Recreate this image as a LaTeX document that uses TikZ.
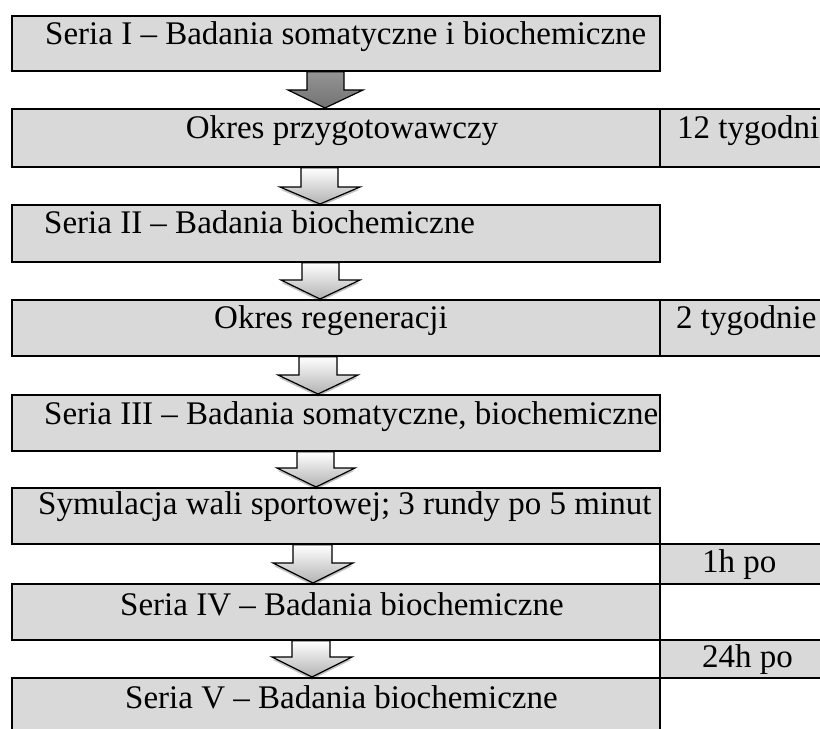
\documentclass[tikz,border=0pt]{standalone}
\usepackage{fontspec}
\setmainfont{Liberation Serif}
\usetikzlibrary{shadows}
\definecolor{boxgray}{HTML}{D9D9D9}
\tikzset{
  box/.style={draw=black, line width=1.8bp, fill=boxgray, inner sep=0pt, anchor=north west},
  blank/.style={draw=black, line width=1.8bp, fill=white, inner sep=0pt, anchor=north west},
  txt/.style={font=\fontsize{33bp}{40bp}\selectfont, inner sep=0pt, anchor=base west},
  ctxt/.style={font=\fontsize{33bp}{40bp}\selectfont, inner sep=0pt, anchor=base},
  darr/.style={draw=black, line width=1.2bp, top color=black!42, bottom color=black!55, line join=miter},
  larr/.style={draw=black, line width=1.2bp, top color=white, bottom color=black!30, line join=miter,
    drop shadow={shadow xshift=0bp, shadow yshift=-2.5bp, opacity=0.25, fill=black}},
}
% #1 style, #2 from node, #3 to node, #4 shaft left x, #5 shaft right x,
% #6 head base y, #7 head left x, #8 head right x, #9 tip x
\newcommand\blockarr[9]{%
  \path[#1] (#4,0 |- #2.south) -- (#5,0 |- #2.south) -- (#5,#6) -- (#8,#6)
    -- (#9,0 |- #3.north) -- (#7,#6) -- (#4,#6) -- cycle;}
\begin{document}
\begin{tikzpicture}[x=1bp, y=-1bp]
\useasboundingbox (0,0) rectangle (820,729);
\clip (0,0) rectangle (820,729);
% main boxes
\node[box, minimum width=648bp, minimum height=55bp] (b1) at (11,15) {};
\node[box, minimum width=648bp, minimum height=58bp] (b2) at (11,108) {};
\node[box, minimum width=180bp, minimum height=58bp] (s1) at (659,108) {};
\node[box, minimum width=648bp, minimum height=57bp] (b3) at (11,204) {};
\node[box, minimum width=648bp, minimum height=56bp] (b4) at (11,299) {};
\node[box, minimum width=180bp, minimum height=56bp] (s2) at (659,299) {};
\node[box, minimum width=648bp, minimum height=56bp] (b5) at (11,394) {};
\node[box, minimum width=648bp, minimum height=56bp] (b6) at (11,487) {};
\node[box, minimum width=180bp, minimum height=40bp] (s3) at (659,543) {};
\node[box, minimum width=648bp, minimum height=56bp] (b7) at (11,583) {};
\node[blank, minimum width=180bp, minimum height=56bp] (r7) at (659,583) {};
\node[box, minimum width=180bp, minimum height=38bp] (s4) at (659,639) {};
\node[box, minimum width=648bp, minimum height=70bp] (b8) at (11,677) {};
\node[blank, minimum width=180bp, minimum height=70bp] (r8) at (659,677) {};
% texts
\node[txt] (t1) at (45,45) {Seria I – Badania somatyczne i biochemiczne};
\node[ctxt] (t2) at (342,139) {Okres przygotowawczy};
\node[txt] (u1) at (677,139) {12 tygodni};
\node[txt] (t3) at (44,233) {Seria II – Badania biochemiczne};
\node[ctxt] (t4) at (331,328) {Okres regeneracji};
\node[txt] (u2) at (676,328) {2 tygodnie};
\node[txt] (t5) at (44,424) {Seria III – Badania somatyczne, biochemiczne};
\node[txt] (t6) at (38,514) {Symulacja wali sportowej; 3 rundy po 5 minut};
\node[txt] (u3) at (702,572) {1h po};
\node[txt] (t7) at (120,615) {Seria IV – Badania biochemiczne};
\node[txt] (u4) at (702,667) {24h po};
\node[txt] (t8) at (125,708) {Seria V – Badania biochemiczne};
% block arrows
\blockarr{darr}{b1}{b2}{307}{344}{90}{288}{363}{325}
\blockarr{larr}{b2}{b3}{301}{338}{187}{280}{360}{320}
\blockarr{larr}{b3}{b4}{302}{339}{280}{281}{360}{320}
\blockarr{larr}{b4}{b5}{299}{337}{375}{278}{358}{318}
\blockarr{larr}{b5}{b6}{297}{334}{468}{277}{355}{316}
\blockarr{larr}{b6}{b7}{293}{332}{563}{273}{353}{313}
\blockarr{larr}{b7}{b8}{292}{330}{657}{272}{352}{312}
\end{tikzpicture}
\end{document}
